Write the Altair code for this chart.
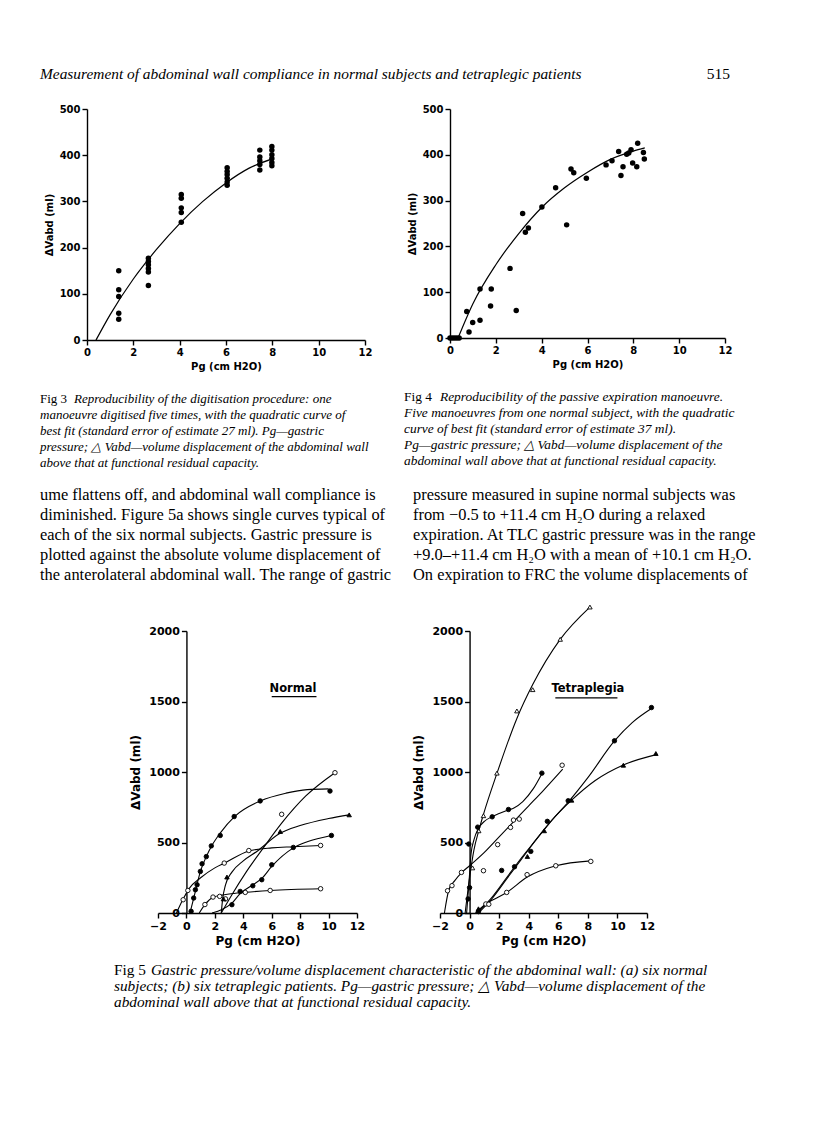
import altair as alt
import pandas as pd

# ---------------- Fig 3: one manoeuvre digitised five times ----------------
fig3_pg = [1.37] * 5 + [2.65] * 6 + [4.07] * 5 + [6.05] * 6 + [7.46] * 5 + [7.98] * 6
fig3_vol = [150, 109, 94, 58, 45,
            177, 170, 163, 155, 147, 118,
            315, 307, 286, 276, 255,
            373, 365, 358, 350, 342, 335,
            411, 396, 388, 380, 368,
            419, 411, 401, 393, 384, 377]
fig3_fit_pg = [0.39, 1, 2, 3, 4, 5, 6, 7, 8]
fig3_fit_vol = [0, 55, 132, 196, 252, 300, 340, 372, 392]

# ---------------- Fig 4: five manoeuvres, one subject ----------------
fig4_pg = [0, 0.1, 0.2, 0.3, 0.4, 0.73, 0.83, 0.99, 1.31, 1.31, 1.80, 1.77, 2.62, 2.89,
           3.17, 3.29, 3.42, 4.01, 4.61, 5.09, 5.28, 5.40, 5.95, 6.81, 7.07, 7.36, 7.46,
           7.55, 7.71, 7.80, 7.90, 7.97, 8.15, 8.19, 8.44, 8.48]
fig4_vol = [0, 0, 0, 0, 0, 58, 13, 34, 107, 39, 107, 70, 152, 60,
            272, 231, 240, 286, 328, 247, 369, 361, 349, 378, 387, 407, 355,
            374, 401, 404, 411, 382, 374, 425, 405, 391]
fig4_fit_pg = [0.35, 1, 2, 3, 4, 5, 6, 7, 8, 8.5]
fig4_fit_vol = [0, 75, 160, 228, 285, 328, 362, 390, 408, 415]

# ---------------- Fig 5a: six normal subjects ----------------
nA_cx = [0.25, 0.5, 0.75, 1.0, 1.4, 1.8, 2.4, 3.4, 5.2, 7.0, 8.5, 10.0]
nA_cy = [0, 100, 205, 300, 400, 480, 570, 685, 795, 850, 875, 880]
nA_px = [0.33, 0.51, 0.63, 0.75, 0.98, 1.1, 1.4, 1.75, 2.38, 3.36, 5.19, 10.1]
nA_py = [12, 106, 165, 200, 295, 349, 400, 476, 550, 684, 795, 865]

nB_cx = [2.45, 3.2, 4.2, 5.4, 6.7, 8.4, 10.45]
nB_cy = [0, 130, 290, 460, 637, 830, 995]
nB_px = [2.75, 6.7, 10.45]
nB_py = [100, 700, 995]

nC_cx = [2.45, 2.55, 2.75, 3.2, 4.0, 5.0, 6.5, 8.0, 10.0, 11.45]
nC_cy = [0, 100, 200, 290, 370, 440, 560, 620, 670, 696]
nC_px = [2.6, 2.85, 6.6, 11.45]
nC_py = [100, 255, 578, 696]

nD_cx = [-0.7, -0.25, 0.2, 1.0, 2.0, 2.7, 4.4, 6.0, 7.5, 9.44]
nD_cy = [0, 95, 175, 250, 320, 355, 440, 462, 470, 479]
nD_px = [-0.23, 0.1, 2.66, 4.39, 9.44]
nD_py = [94, 160, 354, 443, 479]

nE_cx = [1.8, 2.5, 3.2, 3.8, 4.6, 5.3, 6.0, 7.5, 8.5, 10.2]
nE_cy = [0, 25, 70, 140, 195, 245, 330, 460, 505, 550]
nE_px = [3.2, 3.78, 4.67, 5.3, 6.0, 7.52, 10.2]
nE_py = [59, 153, 193, 236, 342, 465, 550]

nF_cx = [0.9, 1.3, 1.9, 2.4, 3.0, 4.1, 5.9, 9.44]
nF_cy = [0, 60, 113, 125, 135, 146, 160, 172]
nF_px = [1.3, 1.87, 2.34, 4.14, 5.89, 9.44]
nF_py = [60, 113, 118, 146, 160, 172]

# ---------------- Fig 5b: six tetraplegic patients ----------------
tA_cx = [-0.3, 0.0, 0.3, 0.62, 0.94, 1.85, 3.2, 4.27, 6.13, 8.14]
tA_cy = [0, 250, 450, 583, 700, 990, 1380, 1620, 1941, 2170]
tA_px = [0.2, 0.62, 0.94, 1.85, 3.2, 4.27, 6.13, 8.14]
tA_py = [320, 583, 690, 992, 1433, 1584, 1941, 2170]

tB_cx = [-0.2, -0.05, 0.1, 0.3, 0.6, 1.0, 1.5, 2.0, 2.6, 3.0, 3.6, 4.3, 4.9]
tB_cy = [0, 200, 420, 520, 600, 650, 682, 705, 730, 745, 790, 880, 990]
tB_px = [-0.1, 0.0, -0.05, 0.55, 1.53, 2.63, 4.89]
tB_py = [100, 180, 489, 609, 682, 734, 992]

tC_cx = [-1.7, -1.4, -1.0, -0.5, 0.0, 1.0, 2.0, 3.0, 4.0, 5.0, 6.3]
tC_cy = [0, 165, 230, 290, 335, 430, 540, 650, 760, 870, 1020]
tC_px = [-1.49, -1.19, -0.55, 0.94, 1.9, 2.77, 2.97, 3.36, 6.26]
tC_py = [158, 194, 288, 300, 485, 607, 659, 666, 1048]

tD_cx = [0.6, 1.5, 2.5, 3.5, 4.5, 5.5, 6.7, 8.0, 9.8, 11.0, 12.3]
tD_cy = [0, 100, 240, 380, 520, 650, 790, 960, 1220, 1350, 1450]
tD_px = [0.6, 2.17, 3.04, 4.14, 5.26, 6.67, 9.8, 12.3]
tD_py = [10, 302, 328, 437, 650, 796, 1221, 1457]

tE_cx = [0.5, 1.5, 2.5, 3.5, 4.5, 5.5, 6.9, 8.5, 10.4, 12.7]
tE_cy = [0, 110, 250, 390, 520, 650, 800, 940, 1050, 1125]
tE_px = [0.6, 3.91, 5.05, 6.9, 10.4, 12.6]
tE_py = [30, 401, 583, 800, 1048, 1131]

tF_cx = [0.4, 1.1, 1.7, 2.51, 3.9, 5.83, 8.2]
tF_cy = [0, 64, 100, 146, 255, 335, 370]
tF_px = [1.1, 1.3, 2.51, 3.89, 5.83, 8.2]
tF_py = [64, 62, 146, 272, 335, 366]

normal_series = [
    (nA_cx, nA_cy, nA_px, nA_py, "filled_circle"),
    (nB_cx, nB_cy, nB_px, nB_py, "open_circle"),
    (nC_cx, nC_cy, nC_px, nC_py, "filled_triangle"),
    (nD_cx, nD_cy, nD_px, nD_py, "open_circle"),
    (nE_cx, nE_cy, nE_px, nE_py, "filled_circle"),
    (nF_cx, nF_cy, nF_px, nF_py, "open_circle"),
]
tetra_series = [
    (tA_cx, tA_cy, tA_px, tA_py, "open_triangle"),
    (tB_cx, tB_cy, tB_px, tB_py, "filled_circle"),
    (tC_cx, tC_cy, tC_px, tC_py, "open_circle"),
    (tD_cx, tD_cy, tD_px, tD_py, "filled_circle"),
    (tE_cx, tE_cy, tE_px, tE_py, "filled_triangle"),
    (tF_cx, tF_cy, tF_px, tF_py, "open_circle"),
]

# ---------------- page text ----------------
header_title = "Measurement of abdominal wall compliance in normal subjects and tetraplegic patients"
page_number = "515"
fig3_caption = [
    "Reproducibility of the digitisation procedure: one",
    "manoeuvre digitised five times, with the quadratic curve of",
    "best fit (standard error of estimate 27 ml). Pg\u2014gastric",
    "pressure; \u25b3 Vabd\u2014volume displacement of the abdominal wall",
    "above that at functional residual capacity.",
]
fig4_caption = [
    "Reproducibility of the passive expiration manoeuvre.",
    "Five manoeuvres from one normal subject, with the quadratic",
    "curve of best fit (standard error of estimate 37 ml).",
    "Pg\u2014gastric pressure; \u25b3 Vabd\u2014volume displacement of the",
    "abdominal wall above that at functional residual capacity.",
]
body_left = [
    "ume flattens off, and abdominal wall compliance is",
    "diminished. Figure 5a shows single curves typical of",
    "each of the six normal subjects. Gastric pressure is",
    "plotted against the absolute volume displacement of",
    "the anterolateral abdominal wall. The range of gastric",
]
body_right = [
    "pressure measured in supine normal subjects was",
    "from  \u22120.5  to  +11.4 cm H\u2082O  during  a  relaxed",
    "expiration. At TLC gastric pressure was in the range",
    "+9.0\u2013+11.4 cm H\u2082O with a mean of +10.1 cm H\u2082O.",
    "On expiration to FRC the volume displacements of",
]
fig5_caption = [
    "Gastric pressure/volume displacement characteristic of the abdominal wall: (a) six normal",
    "subjects; (b) six tetraplegic patients. Pg\u2014gastric pressure; \u25b3 Vabd\u2014volume displacement of the",
    "abdominal wall above that at functional residual capacity.",
]

SANS = "DejaVu Sans"
SERIF = "Liberation Serif"
PG_TITLE = "Pg (cm H2O)"
VOL_TITLE = "\u0394Vabd (ml)"


def axis(values, title, lsize, tsize, tpad, offset=0):
    return alt.Axis(values=values, title=title, grid=False, offset=offset, format="d",
                    domainColor="black", domainWidth=1.4, tickColor="black",
                    tickWidth=1.4, tickSize=5, labelFont=SANS, labelFontSize=lsize,
                    labelFontWeight="bold", labelColor="black", labelPadding=2,
                    labelFlush=False, labelOverlap=False, titleFont=SANS,
                    titleFontSize=tsize, titleFontWeight="bold", titleColor="black",
                    titlePadding=tpad)


def txt(line, px, py, size, style="normal", font=SERIF, weight="normal", align="left"):
    """A line of page text placed relative to the panel it is attached to."""
    return alt.Chart(pd.DataFrame({"t": [line]})).mark_text(
        font=font, fontSize=size, fontStyle=style, fontWeight=weight, color="black",
        align=align, baseline="alphabetic").encode(
        x=alt.value(px), y=alt.value(py), text="t:N")


def small_panel(pg, vol, fpg, fvol, width, height, lead, extra):
    X = alt.X("x:Q", scale=alt.Scale(domain=[0, 12], nice=False, range=[lead, width]),
              axis=axis(list(range(0, 13, 2)), PG_TITLE, 10, 10, 4))
    Y = alt.Y("y:Q", scale=alt.Scale(domain=[0, 500], nice=False),
              axis=axis([0, 100, 200, 300, 400, 500], VOL_TITLE, 10, 10, 5, offset=-lead))
    pts = alt.Chart(pd.DataFrame({"x": pg, "y": vol})).mark_circle(
        color="black", size=30, opacity=1).encode(x=X, y=Y)
    fit = alt.Chart(pd.DataFrame({"x": fpg, "y": fvol})).mark_line(
        color="black", strokeWidth=1.2, interpolate="monotone").encode(x=X, y=Y)
    return alt.layer(fit, pts, *extra).properties(width=width, height=height)


def big_panel(series, width, height, lead, label, label_xy, ul_x, ul_y, extra):
    off = -(lead + 2 * (width - lead) / 14.0)
    X = alt.X("x:Q", scale=alt.Scale(domain=[-2, 12], nice=False, range=[lead, width]),
              axis=axis(list(range(-2, 13, 2)), PG_TITLE, 11, 12, 4))
    Y = alt.Y("y:Q", scale=alt.Scale(domain=[0, 2000], nice=False),
              axis=axis([0, 500, 1000, 1500, 2000], VOL_TITLE, 11, 12, 6, offset=off))
    layers = []
    for cx, cy, px, py, m in series:
        layers.append(alt.Chart(pd.DataFrame({"x": cx, "y": cy})).mark_line(
            color="black", strokeWidth=1.1, interpolate="monotone").encode(x=X, y=Y))
        shape = "circle" if "circle" in m else "triangle-up"
        fill = "black" if m.startswith("filled") else "white"
        layers.append(alt.Chart(pd.DataFrame({"x": px, "y": py})).mark_point(
            shape=shape, filled=True, fill=fill, stroke="black", strokeWidth=0.9,
            size=20, opacity=1).encode(x=X, y=Y))
    layers.append(alt.Chart(pd.DataFrame({"x": [label_xy[0]], "y": [label_xy[1]], "t": [label]}))
                  .mark_text(font=SANS, fontSize=11.5, fontWeight="bold", color="black",
                             align="center", baseline="alphabetic")
                  .encode(x=X, y=Y, text="t:N"))
    layers.append(alt.Chart(pd.DataFrame({"x": [ul_x[0]], "x2": [ul_x[1]], "y": [ul_y]}))
                  .mark_rule(color="black", strokeWidth=1.2)
                  .encode(x=X, x2="x2:Q", y=Y))
    return alt.layer(*layers, *extra).properties(width=width, height=height)


def spacer(w, anchor_y=None):
    base = alt.Chart(pd.DataFrame({"v": [0]})).mark_point(opacity=0).encode(
        x=alt.value(0), y=alt.value(0)).properties(width=w, height=1)
    if anchor_y is None:
        return base
    # white dot at the page's top-left corner so the layout starts there
    dot = alt.Chart(pd.DataFrame({"v": [0]})).mark_point(
        shape="square", filled=True, color="white", size=4, opacity=1).encode(
        x=alt.value(1), y=alt.value(anchor_y))
    return alt.layer(base, dot).properties(width=w, height=1)


# text attached to Fig 3 (origin = its plot's top-left corner, page (84,109))
fig3_text = [txt(header_title, -47, -30, 15.4, "italic"),
             txt("Fig 3", -47, 294, 13)]
for i, line in enumerate(fig3_caption):
    fig3_text.append(txt(line, -13 if i == 0 else -47, 294 + 16 * i, 13, "italic"))
for i, line in enumerate(body_left):
    fig3_text.append(txt(line, -47, 391 + 20 * i, 16.4))

# text attached to Fig 4 (origin = page (437,109))
fig4_text = [txt(page_number, 290, -30, 15.5, align="right"),
             txt("Fig 4", -36, 292, 13.4)]
for i, line in enumerate(fig4_caption):
    fig4_text.append(txt(line, 0 if i == 0 else -36, 292 + 16 * i, 13.4, "italic"))
for i, line in enumerate(body_right):
    fig4_text.append(txt(line, -27, 391 + 20 * i, 16.4))

# text attached to Fig 5a (origin = page (84,631))
fig5_text = [txt("Fig 5", 27, 344, 15.3)]
for i, line in enumerate(fig5_caption):
    fig5_text.append(txt(line, 64 if i == 0 else 27, 344 + 16 * i, 15.3, "italic"))

fig3 = small_panel(fig3_pg, fig3_vol, fig3_fit_pg, fig3_fit_vol, 278, 231, 0, fig3_text)
fig4 = small_panel(fig4_pg, fig4_vol, fig4_fit_pg, fig4_fit_vol, 285, 229, 10, fig4_text)
fig5a = big_panel(normal_series, 270, 282, 71, "Normal", (7.5, 1565), (6.0, 9.15), 1535, fig5_text)
fig5b = big_panel(tetra_series, 207, 282, 0, "Tetraplegia", (8.0, 1565), (5.8, 10.0), 1525, [])

chart = alt.concat(
    spacer(76, anchor_y=-100), fig3, spacer(75), fig4,
    spacer(76), fig5a, spacer(75), fig5b,
    columns=4, bounds="flush",
    spacing=alt.RowColnumber(row=291, column=0),
).properties(padding=0, background="white").configure_view(stroke=None)

chart.save("out.html", embed_options={"renderer": "svg", "actions": False})
